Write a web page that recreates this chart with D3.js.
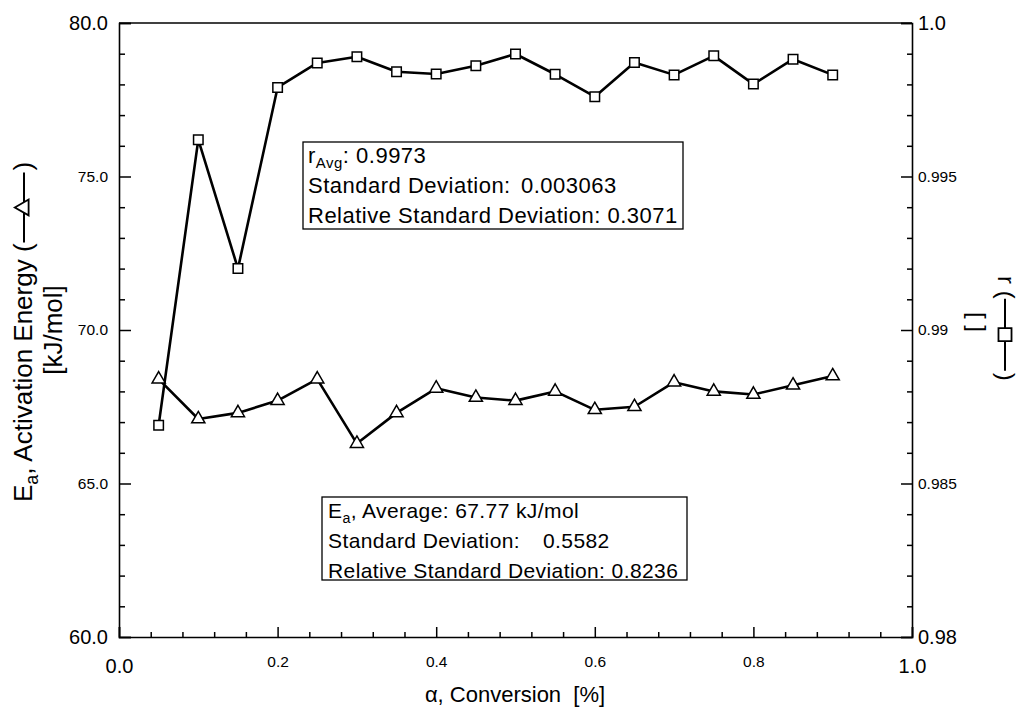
<!DOCTYPE html>
<html>
<head>
<meta charset="utf-8">
<script src="https://cdn.jsdelivr.net/npm/d3@7"></script>
<style>
  body { margin: 0; background: #fff; }
  svg { display: block; font-family: Arial, "Liberation Sans", sans-serif; }
  .box text { white-space: pre; }
</style>
</head>
<body>
<svg id="chart" width="1020" height="709"></svg>
<script>
// conversion values
const alpha = [0.05, 0.10, 0.15, 0.20, 0.25, 0.30, 0.35, 0.40, 0.45, 0.50, 0.55, 0.60, 0.65, 0.70, 0.75, 0.80, 0.85, 0.90]
// activation energy, kJ/mol (left axis)
const ea = [68.4, 67.1, 67.3, 67.7, 68.4, 66.3, 67.3, 68.1, 67.8, 67.7, 68.0, 67.4, 67.5, 68.3, 68.0, 67.9, 68.2, 68.5]
// correlation coefficient r (right axis)
const rVal = [0.9869, 0.9962, 0.9920, 0.9979, 0.9987, 0.9989, 0.99841, 0.99834, 0.99861, 0.99899, 0.99833, 0.99760,
              0.99871, 0.99831, 0.99893, 0.99801, 0.99882, 0.99831]

const xTicks = [0, 0.2, 0.4, 0.6, 0.8, 1.0]
const xTickLabels = ['0.0', '0.2', '0.4', '0.6', '0.8', '1.0']
const leftTicks = [60, 65, 70, 75, 80]
const leftTickLabels = ['60.0', '65.0', '70.0', '75.0', '80.0']
const rightTicks = [0.98, 0.985, 0.99, 0.995, 1.0]
const rightTickLabels = ['0.98', '0.985', '0.99', '0.995', '1.0']

const rBox = ['0.9973', '0.003063', '0.3071']
const eaBox = ['67.77', '0.5582', '0.8236']

const FONT = 'Arial, "Liberation Sans", sans-serif'
const svg = d3.select('#chart')
const pLeft = 119, pRight = 912, pTop = 23, pBottom = 637

let x = d3.scaleLinear().domain([0, 1]).range([pLeft, pRight])
let yL = d3.scaleLinear().domain([60, 80]).range([pBottom, pTop])
let yR = d3.scaleLinear().domain([0.98, 1.0]).range([pBottom, pTop])

// size of end labels is larger, like in the original figure
const labelSize = (i, n) => (i === 0 || i === n - 1) ? 20 : 15.5

// ---- x axis
const xMinor = d3.range(0, 1.0001, 0.04).filter(v => Math.abs(v / 0.2 - Math.round(v / 0.2)) > 1e-6)
svg.append('g')
    .attr('transform', `translate(0,${pBottom})`)
    .call(d3.axisBottom(x).tickValues(xMinor).tickSize(-5).tickFormat(''))
    .call(g => g.select('.domain').remove())
svg.append('g')
    .attr('class', 'xAxis')
    .attr('transform', `translate(0,${pBottom})`)
    .call(d3.axisBottom(x).tickValues(xTicks).tickSize(-10).tickFormat((d, i) => xTickLabels[i]))
    .attr('font-family', FONT)
    .call(g => g.select('.domain').attr('stroke-width', 1.6))
    .call(g => g.selectAll('.tick text')
      .attr('dy', null)
      .attr('y', (d, i) => (i === 0 || i === xTicks.length - 1) ? 36 : 30)
      .style('font-size', (d, i) => labelSize(i, xTicks.length) + 'px'))

// ---- left axis
const lMinor = d3.range(60, 80.001, 1).filter(v => v % 5 !== 0)
svg.append('g')
    .attr('transform', `translate(${pLeft},0)`)
    .call(d3.axisLeft(yL).tickValues(lMinor).tickSize(-6).tickFormat(''))
    .call(g => g.select('.domain').remove())
svg.append('g')
    .attr('transform', `translate(${pLeft},0)`)
    .call(d3.axisLeft(yL).tickValues(leftTicks).tickSize(-12).tickPadding(11)
      .tickFormat((d, i) => leftTickLabels[i]))
    .attr('font-family', FONT)
    .call(g => g.select('.domain').attr('stroke-width', 1.6))
    .call(g => g.selectAll('.tick text')
      .style('font-size', (d, i) => labelSize(i, leftTicks.length) + 'px'))

// ---- right axis
const rMinor = d3.range(980, 1000.5, 1).filter(v => v % 5 !== 0).map(v => v / 1000)
svg.append('g')
    .attr('transform', `translate(${pRight},0)`)
    .call(d3.axisRight(yR).tickValues(rMinor).tickSize(-5).tickFormat(''))
    .call(g => g.select('.domain').remove())
svg.append('g')
    .attr('transform', `translate(${pRight},0)`)
    .call(d3.axisRight(yR).tickValues(rightTicks).tickSize(-11).tickPadding(6)
      .tickFormat((d, i) => rightTickLabels[i]))
    .attr('font-family', FONT)
    .call(g => g.select('.domain').attr('stroke-width', 1.6))
    .call(g => g.selectAll('.tick text')
      .style('font-size', (d, i) => labelSize(i, rightTicks.length) + 'px'))

svg.selectAll('.tick line').attr('stroke-width', 1.5)

// top frame line
svg.append('line')
    .attr('x1', pLeft).attr('x2', pRight)
    .attr('y1', pTop).attr('y2', pTop)
    .attr('stroke', '#000').attr('stroke-width', 1.6)

// ---- data lines
const pts = (vals) => alpha.map((a, i) => [a, vals[i]])

svg.append('path')
    .datum(pts(rVal))
    .attr('fill', 'none').attr('stroke', '#000').attr('stroke-width', 2.6)
    .attr('stroke-linejoin', 'round')
    .attr('d', d3.line().x(d => x(d[0])).y(d => yR(d[1])))

svg.append('path')
    .datum(pts(ea))
    .attr('fill', 'none').attr('stroke', '#000').attr('stroke-width', 2.6)
    .attr('stroke-linejoin', 'round')
    .attr('d', d3.line().x(d => x(d[0])).y(d => yL(d[1])))

svg.append('g').selectAll('path')
  .data(pts(rVal))
  .join('path')
    .attr('transform', d => `translate(${x(d[0])},${yR(d[1])})`)
    .attr('d', d3.symbol(d3.symbolSquare, 90))
    .attr('fill', '#fff').attr('stroke', '#000').attr('stroke-width', 1.5)

svg.append('g').selectAll('path')
  .data(pts(ea))
  .join('path')
    .attr('transform', d => `translate(${x(d[0])},${yL(d[1])})`)
    .attr('d', d3.symbol(d3.symbolTriangle, 75))
    .attr('fill', '#fff').attr('stroke', '#000').attr('stroke-width', 1.5)

// ---- axis titles
svg.append('text')
    .attr('x', 515).attr('y', 702)
    .attr('text-anchor', 'middle')
    .style('font-size', '22px')
    .style('white-space', 'pre')
    .text('α, Conversion  [%]')

// left title, line 1 with legend glyph
let gl = svg.append('g').attr('transform', 'translate(32,502) rotate(-90)')
let tl = gl.append('text').style('font-size', '26px')
tl.append('tspan').text('E')
tl.append('tspan').attr('dy', 6).style('font-size', '18px').text('a')
tl.append('tspan').attr('dy', -6).style('white-space', 'pre').text(', Activation Energy (')
let L1 = tl.node().getComputedTextLength()
gl.append('line')
    .attr('x1', L1 + 1).attr('x2', L1 + 71).attr('y1', -8).attr('y2', -8)
    .attr('stroke', '#000').attr('stroke-width', 2)
gl.append('path')
    .attr('transform', `translate(${L1 + 36},-8)`)
    .attr('d', d3.symbol(d3.symbolTriangle, 110))
    .attr('fill', '#fff').attr('stroke', '#000').attr('stroke-width', 1.8)
gl.append('text').attr('x', L1 + 73).style('font-size', '26px').text(')')

svg.append('text')
    .attr('transform', 'translate(62,330) rotate(-90)')
    .attr('text-anchor', 'middle')
    .style('font-size', '26px')
    .text('[kJ/mol]')

// right title
let gr = svg.append('g').attr('transform', 'translate(998,276) rotate(90)')
let tr = gr.append('text').style('font-size', '24px').style('white-space', 'pre').text('r (')
let L2 = tr.node().getComputedTextLength()
gr.append('line')
    .attr('x1', L2).attr('x2', L2 + 72).attr('y1', -7).attr('y2', -7)
    .attr('stroke', '#000').attr('stroke-width', 2)
gr.append('path')
    .attr('transform', `translate(${L2 + 36},-7)`)
    .attr('d', d3.symbol(d3.symbolSquare, 170))
    .attr('fill', '#fff').attr('stroke', '#000').attr('stroke-width', 1.8)
gr.append('text').attr('x', L2 + 74).style('font-size', '24px').text(')')

svg.append('text')
    .attr('transform', 'translate(969,322) rotate(90)')
    .attr('text-anchor', 'middle')
    .style('font-size', '24px')
    .style('white-space', 'pre')
    .text('[ ]')

// ---- statistics boxes
function statBox(bx, by, bw, bh, tx, numX, fs, ls, sym, sub, first, vals) {
  let g = svg.append('g').attr('class', 'box')
  g.append('rect')
      .attr('x', bx).attr('y', by).attr('width', bw).attr('height', bh)
      .attr('fill', '#fff').attr('stroke', '#000').attr('stroke-width', 1.3)
  let t1 = g.append('text').attr('x', tx).attr('y', by + 21)
      .style('font-size', fs + 'px').style('letter-spacing', ls + 'px')
  t1.append('tspan').text(sym)
  t1.append('tspan').attr('dy', 5).style('font-size', (fs * 0.68) + 'px').text(sub)
  t1.append('tspan').attr('dy', -5).text(first + vals[0] + (sym === 'E' ? ' kJ/mol' : ''))
  let t2 = g.append('text').attr('x', tx).attr('y', by + 51)
      .style('font-size', fs + 'px').style('letter-spacing', ls + 'px')
  t2.append('tspan').text('Standard Deviation:')
  t2.append('tspan').attr('x', numX).text(vals[1])
  g.append('text').attr('x', tx).attr('y', by + 81)
      .style('font-size', fs + 'px').style('letter-spacing', ls + 'px')
      .text('Relative Standard Deviation: ' + vals[2])
}

statBox(303, 142, 380, 87, 308, 521, 22, 0.5, 'r', 'Avg', ': ', rBox)
statBox(322, 497, 365, 83, 328, 543, 21, 0.4, 'E', 'a', ', Average: ', eaBox)
</script>
</body>
</html>
